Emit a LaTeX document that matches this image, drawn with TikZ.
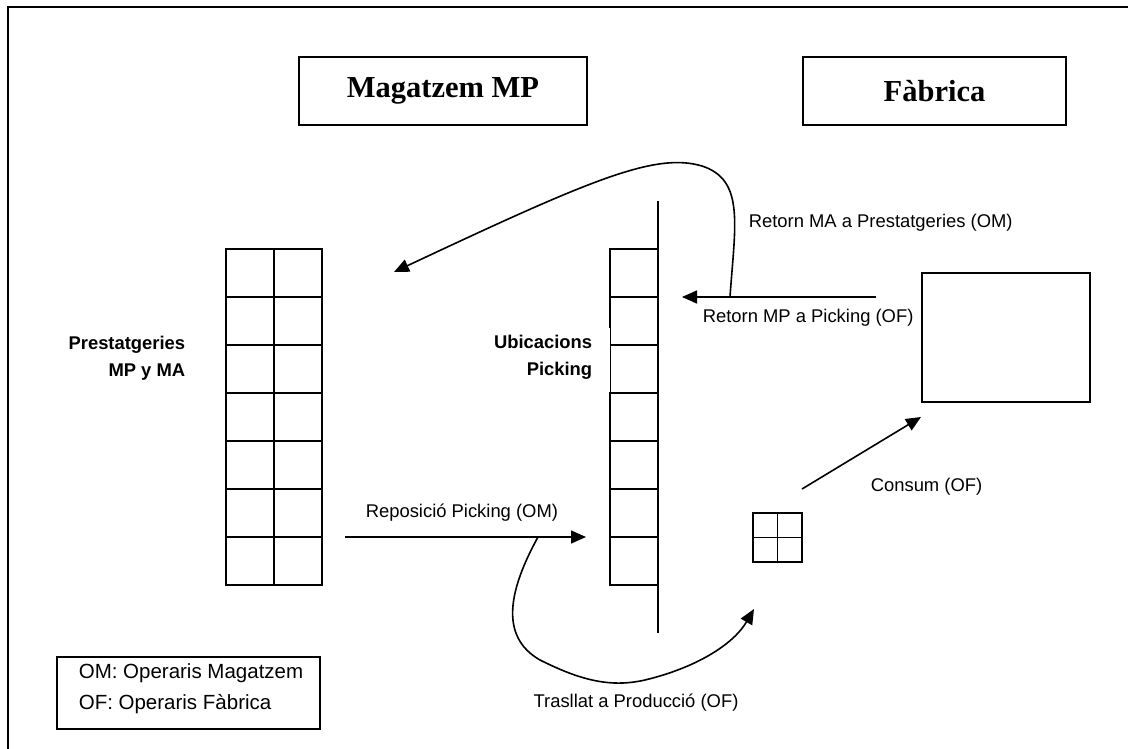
\documentclass[tikz,border=0pt]{standalone}
\usepackage{fontspec}
\setmainfont{Liberation Sans}
\newfontfamily\titlefont{Liberation Serif}
\usetikzlibrary{arrows.meta}
\tikzset{
  every picture/.style={line width=1.6pt},
  titlebox/.style={draw, minimum width=288pt, minimum height=68pt, inner sep=0pt,
                   font=\titlefont\fontsize{30.5}{34}\selectfont\bfseries},
  cell/.style={draw, minimum width=48pt, minimum height=48pt, inner sep=0pt},
  lbl/.style={font=\fontsize{18.4}{22}\selectfont, inner sep=0pt},
  blbl/.style={font=\fontsize{18.4}{27}\selectfont\bfseries, inner sep=0pt, align=right},
  flow/.style={-{Triangle[length=15pt,width=13pt]}, line width=1.6pt},
}
\begin{document}
\begin{tikzpicture}[x=1pt,y=-1pt]
\useasboundingbox (0,0) rectangle (1128,749);
% outer frame (only its top and left edges fall inside the page)
\draw[line width=2pt] (8,760) -- (8,7) -- (1140,7);

% section headings
\node[titlebox, minimum width=288pt] (mag) at (443,91) {Magatzem MP};
\node[titlebox, minimum width=263pt] (fab) at (934.5,91) {Fàbrica};

% storage racks, 7 rows x 2 columns
\foreach \r in {0,...,6}{
  \node[cell] (s\r a) at (250,273+48*\r) {};
  \node[cell] (s\r b) at (298,273+48*\r) {};
}
\node[blbl, anchor=east] (prest) at (186,358) {Prestatgeries\\MP y MA};

% picking locations, 7 rows along a wall
\foreach \r in {0,...,6}{
  \node[cell] (p\r) at (634,273+48*\r) {};
}
\coordinate (wtop) at (658,201);
\coordinate (wbot) at (658,633);
\draw (wtop) -- (wbot);
\node[blbl, anchor=east, fill=white, inner xsep=0pt, inner ysep=6pt] (ubic) at (593,357) {Ubicacions\\Picking};
% the label's white backing trims the outer half of the rack edge
\fill[white] (ubic.north east) rectangle (609.9,392);

% production machine and small bin
\node[draw, minimum width=168pt, minimum height=129pt, inner sep=0pt] (maq) at (1006,337.5) {};
\node[draw, minimum width=49pt, minimum height=49pt, inner sep=0pt] (bin) at (777.5,537.5) {};
\draw (bin.north) -- (bin.south) (bin.west) -- (bin.east);

% flows
\coordinate (repA) at (345,537);
\coordinate (repB) at (586,537);
\draw[flow] (repA) -- (repB);
\node[lbl, anchor=west] (repL) at (365,513) {Reposició Picking (OM)};

\coordinate (trA) at (538,537);
\coordinate (trB) at (754,609);
\draw[flow] (trA) .. controls (510,588) and (498,636) .. (540,660)
                .. controls (580,680) and (610,688) .. (645,680)
                .. controls (695,668) and (733,645) .. (trB);
\node[lbl] (trL) at (636,703) {Trasllat a Producció (OF)};

\coordinate (coA) at (802,489);
\coordinate (coB) at (921,417);
\draw[flow] (coA) -- (coB);
\node[lbl, anchor=west] (coL) at (870,487) {Consum (OF)};

\coordinate (rmA) at (876,297);
\coordinate (rmB) at (682,297);
\draw[flow] (rmA) -- (rmB);
\node[lbl, anchor=west] (rmL) at (702,318) {Retorn MP a Picking (OF)};

\coordinate (raA) at (730,297);
\coordinate (raB) at (394,272);
\draw[flow] (raA) .. controls (735,225) and (745,180) .. (702,166)
                .. controls (655,152) and (590,180) .. (raB);
\node[lbl, anchor=west] (raL) at (748,223) {Retorn MA a Prestatgeries (OM)};

% legend
\node[draw, minimum width=263pt, minimum height=72pt, inner sep=0pt] (leg) at (188.5,693) {};
\node[lbl, anchor=west, align=left, font=\fontsize{20.5}{31}\selectfont] (legT) at (78,689) {OM: Operaris Magatzem\\OF: Operaris Fàbrica};
\end{tikzpicture}
\end{document}
